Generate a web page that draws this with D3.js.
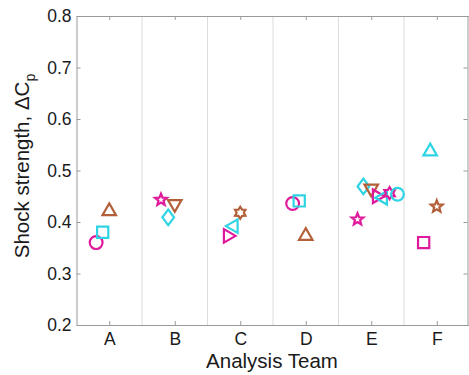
<!DOCTYPE html>
<html><head><meta charset="utf-8">
<script src="https://cdn.jsdelivr.net/npm/d3@7"></script>
<style>html,body{margin:0;padding:0;background:#fff;} svg{display:block;}</style>
</head><body>
<svg id="c" width="469" height="375"></svg>
<script>
const teams = ["A","B","C","D","E","F"];
const yTicks = [0.2,0.3,0.4,0.5,0.6,0.7,0.8];
// each point: team index, x jitter in team units, value, marker, colour
const pointTeam   = [0,0,0, 1,1,1, 2,2,2, 3,3,3, 4,4,4,4,4,4,4, 5,5,5];
const pointJitter = [-0.2,-0.1,0, -0.21,-0.1,0, -0.19,-0.1,0, -0.2,-0.1,0, -0.21,-0.12,0,0.085,0.18,0.28,0.4, -0.2,-0.1,0];
const pointValue  = [0.360,0.380,0.421, 0.443,0.409,0.435, 0.373,0.392,0.418, 0.436,0.441,0.373, 0.405,0.469,0.465,0.450,0.447,0.456,0.454, 0.360,0.537,0.430];
const pointMarker = ["circle","square","triUp", "star","diamond","triDown", "triRight","triLeft","hexagram", "circle","square","triUp",
                     "star","diamond","triDown","triRight","triLeft","hexagram","circle", "square","triUp","star"];
const pointColor  = ["m","c","b", "m","c","b", "m","c","b", "m","c","b", "m","c","b","m","c","m","c", "m","c","b"];
const palette = {m:"#e0199c", c:"#2fd4e4", b:"#b3603a"};

const svg = d3.select("#c");
const L=76.5, R=469.5, T=16, B=325;
const x = d3.scaleLinear().domain([0.5,6.5]).range([L,R]);
const y = d3.scaleLinear().domain([0.2,0.8]).range([B,T]);
const font = "Liberation Sans, Arial, sans-serif";
const axisCol = "#9a9a9a";

// vertical separators
svg.append("g").selectAll("line").data(d3.range(1.5,6.5,1)).join("line")
  .attr("x1",d=>x(d)).attr("x2",d=>x(d)).attr("y1",T).attr("y2",B)
  .attr("stroke","#dcdcdc").attr("stroke-width",1);

// bottom axis
const xb = svg.append("g").attr("transform",`translate(0,${B})`)
  .call(d3.axisBottom(x).tickValues(d3.range(1,7)).tickFormat(i=>teams[i-1]).tickSizeInner(-4).tickSizeOuter(0).tickPadding(8));
// top axis
const xt = svg.append("g").attr("transform",`translate(0,${T})`)
  .call(d3.axisTop(x).tickValues(d3.range(1,7)).tickFormat("").tickSizeInner(-4).tickSizeOuter(0));
// left axis
const yl = svg.append("g").attr("transform",`translate(${L},0)`)
  .call(d3.axisLeft(y).tickValues(yTicks).tickFormat(d3.format(".1f")).tickSizeInner(-4).tickSizeOuter(0).tickPadding(5));
// right axis
const yr = svg.append("g").attr("transform",`translate(${R-2},0)`)
  .call(d3.axisRight(y).tickValues(yTicks).tickFormat("").tickSizeInner(-4).tickSizeOuter(0));
[xb,xt,yl,yr].forEach(g=>{
  g.selectAll("path.domain").attr("stroke",axisCol);
  g.selectAll(".tick line").attr("stroke",axisCol);
  g.selectAll("text").attr("fill","#1a1a1a").style("font-family",font).style("font-size","17.5px");
});

// markers
function markerPath(type){
  const p = d3.path();
  if(type==="circle"){ p.arc(0,0,6.4,0,2*Math.PI); return p.toString(); }
  if(type==="square"){ const s=5.6; p.rect(-s,-s,2*s,2*s); return p.toString(); }
  if(type==="diamond"){ const s=7.8; p.moveTo(0,-s); p.lineTo(s*0.75,0); p.lineTo(0,s); p.lineTo(-s*0.75,0); p.closePath(); return p.toString(); }
  const tri = (ang)=>{ const r=7.8; for(let k=0;k<3;k++){ const a=ang+k*2*Math.PI/3; const px=r*Math.cos(a), py=r*Math.sin(a); k?p.lineTo(px,py):p.moveTo(px,py);} p.closePath(); return p.toString(); };
  if(type==="triUp") return tri(-Math.PI/2);
  if(type==="triDown") return tri(Math.PI/2);
  if(type==="triRight") return tri(0);
  if(type==="triLeft") return tri(Math.PI);
  if(type==="star"){ const ro=6.2, ri=2.7; for(let k=0;k<10;k++){ const r=k%2?ri:ro; const a=-Math.PI/2+k*Math.PI/5; const px=r*Math.cos(a), py=r*Math.sin(a); k?p.lineTo(px,py):p.moveTo(px,py);} p.closePath(); return p.toString(); }
  if(type==="hexagram"){ const ro=6, ri=3.6; for(let k=0;k<12;k++){ const r=k%2?ri:ro; const a=-Math.PI/2+k*Math.PI/6; const px=r*Math.cos(a), py=r*Math.sin(a); k?p.lineTo(px,py):p.moveTo(px,py);} p.closePath(); return p.toString(); }
}
const pts = pointValue.map((v,i)=>({xv:pointTeam[i]+1+pointJitter[i], v, m:pointMarker[i], c:palette[pointColor[i]]}));
svg.append("g").selectAll("path").data(pts).join("path")
  .attr("transform",d=>`translate(${x(d.xv)},${y(d.v)})`)
  .attr("d",d=>markerPath(d.m))
  .attr("fill","none").attr("stroke",d=>d.c).attr("stroke-width",2.2).attr("stroke-linejoin","miter");

// axis labels
svg.append("text").attr("x",272).attr("y",368).attr("text-anchor","middle")
  .style("font-family",font).style("font-size","20.5px").attr("fill","#1a1a1a").text("Analysis Team");
const yt = svg.append("text").attr("transform","translate(29,166) rotate(-90)").attr("text-anchor","middle")
  .style("font-family",font).style("font-size","20.5px").attr("fill","#1a1a1a");
yt.append("tspan").text("Shock strength, ΔC");
yt.append("tspan").attr("dy",6).style("font-size","14px").text("p");
</script>
</body></html>
